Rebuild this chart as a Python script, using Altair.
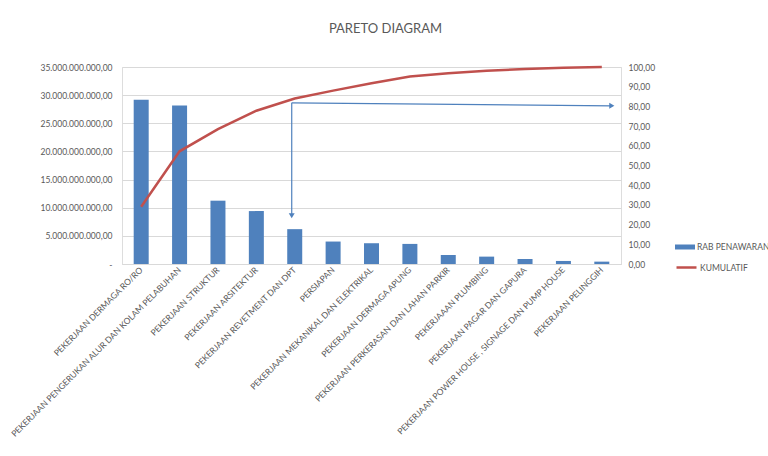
import altair as alt
import pandas as pd

categories = [
    "PEKERJAAN DERMAGA RO/RO",
    "PEKERJAAN  PENGERUKAN ALUR DAN KOLAM PELABUHAN",
    "PEKERJAAN STRUKTUR",
    "PEKERJAAN ARSITEKTUR",
    "PEKERJAAN REVETMENT DAN DPT",
    "PERSIAPAN",
    "PEKERJAAN MEKANIKAL DAN ELEKTRIKAL",
    "PEKERJAAN DERMAGA APUNG",
    "PEKERJAAN PERKERASAN DAN LAHAN PARKIR",
    "PEKERJAAAN PLUMBING",
    "PEKERJAAN PAGAR DAN GAPURA",
    "PEKERJAAN POWER HOUSE , SIGNAGE DAN PUMP HOUSE",
    "PEKERJAAN PELINGGIH",
]
rab_penawaran = [29.16e9, 28.16e9, 11.25e9, 9.40e9, 6.19e9, 3.99e9, 3.69e9,
                 3.57e9, 1.60e9, 1.31e9, 0.89e9, 0.54e9, 0.42e9]
kumulatif = [29.1, 57.2, 68.5, 77.8, 84.0, 88.0, 91.7, 95.2, 96.8, 98.1, 99.0, 99.6, 100.0]

# annotation arrows (values on the percentage axis)
arrow_category = "PEKERJAAN REVETMENT DAN DPT"
arrow_end_category = "PEKERJAAN PELINGGIH"
h_arrow_start, h_arrow_end = 81.8, 80.3
v_arrow_start, v_arrow_end = 81.8, 24.5

FONT = "Lato"
GREY = "#595959"
BLUE = "#4F81BD"
RED = "#C0504D"

df = pd.DataFrame({
    "kategori": categories,
    "rab": rab_penawaran,
    "kum": kumulatif,
    "s1": ["RAB PENAWARAN"] * len(categories),
    "s2": ["KUMULATIF"] * len(categories),
})

xscale = alt.Scale(domain=categories, paddingInner=0.6, paddingOuter=0.3)

xenc = alt.X("kategori:N", title=None, scale=xscale,
             axis=alt.Axis(labelAngle=-45, labelAlign="right", labelBaseline="middle",
                           labelFontSize=8.5, labelColor=GREY, labelFont=FONT,
                           labelLimit=400, labelPadding=4, ticks=False,
                           domainColor="#D9D9D9", labelOverlap=False))

left_expr = ("datum.value == 0 ? '-' : replace(format(datum.value, ',.0f'), "
             "regexp(',', 'g'), '.') + ',00'")
right_expr = "replace(format(datum.value, '.2f'), '.', ',')"

base = alt.Chart(df)

bars = base.mark_bar(size=15).encode(
    x=xenc,
    y=alt.Y("rab:Q", title=None,
            scale=alt.Scale(domain=[0, 35e9], nice=False),
            axis=alt.Axis(values=[i * 5e9 for i in range(8)], labelExpr=left_expr,
                          labelFontSize=8.5, labelColor=GREY, labelFont=FONT,
                          gridColor="#D9D9D9", domain=False, ticks=False, labelPadding=10)),
    fill=alt.Fill("s1:N", title=None,
                  scale=alt.Scale(domain=["RAB PENAWARAN"], range=[BLUE]),
                  legend=alt.Legend(orient="none", legendX=553, legendY=170,
                                    symbolType="M-1,-0.25L1,-0.25L1,0.25L-1,0.25Z",
                                    symbolSize=400, symbolStrokeWidth=0,
                                    labelFontSize=8.5, labelColor=GREY, labelFont=FONT,
                                    labelOffset=2)),
)

pct_scale = alt.Scale(domain=[0, 100], nice=False)

line = base.mark_line(strokeWidth=2.5).encode(
    x=alt.X("kategori:N", scale=xscale),
    y=alt.Y("kum:Q", title=None, scale=pct_scale,
            axis=alt.Axis(orient="right", values=list(range(0, 101, 10)),
                          labelExpr=right_expr, grid=False, domain=False, ticks=False,
                          labelFontSize=8.5, labelColor=GREY, labelFont=FONT,
                          labelPadding=7)),
    stroke=alt.Stroke("s2:N", title=None,
                      scale=alt.Scale(domain=["KUMULATIF"], range=[RED]),
                      legend=alt.Legend(orient="none", legendX=553, legendY=189,
                                        symbolType="stroke", symbolSize=400,
                                        symbolStrokeWidth=2.5,
                                        labelFontSize=8.5, labelColor=GREY, labelFont=FONT,
                                        labelOffset=2)),
)

arr = pd.DataFrame({
    "c1": [arrow_category], "c2": [arrow_end_category],
    "hy1": [h_arrow_start], "hy2": [h_arrow_end],
    "vy1": [v_arrow_start], "vy2": [v_arrow_end],
})
ac = alt.Chart(arr)

h_arrow = ac.mark_rule(color=BLUE, strokeWidth=1.2, x2Offset=10, xOffset=-3).encode(
    x=alt.X("c1:N", scale=xscale),
    x2="c2:N",
    y=alt.Y("hy1:Q", scale=pct_scale, axis=None),
    y2="hy2:Q",
)
h_head = ac.mark_point(shape="triangle-right", filled=True, color=BLUE, size=35,
                       opacity=1, xOffset=10).encode(
    x=alt.X("c2:N", scale=xscale),
    y=alt.Y("hy2:Q", scale=pct_scale, axis=None),
)
v_arrow = ac.mark_rule(color=BLUE, strokeWidth=1.2, xOffset=-3).encode(
    x=alt.X("c1:N", scale=xscale),
    y=alt.Y("vy1:Q", scale=pct_scale, axis=None),
    y2="vy2:Q",
)
v_head = ac.mark_point(shape="triangle-down", filled=True, color=BLUE, size=35,
                       opacity=1, xOffset=-3).encode(
    x=alt.X("c1:N", scale=xscale),
    y=alt.Y("vy2:Q", scale=pct_scale, axis=None),
)

chart = alt.layer(bars, line, h_arrow, h_head, v_arrow, v_head).resolve_scale(
    y="independent"
).properties(
    width=499, height=197,
    padding={"left": 122, "top": 67, "right": 147, "bottom": 192},
    autosize=alt.AutoSizeParams(type="none"),
    title=alt.TitleParams("PARETO DIAGRAM", fontSize=13, font=FONT, color=GREY,
                          fontWeight="normal", anchor="middle", dx=14, offset=26),
).configure_view(stroke=None).configure(background="white")

chart.save("out.html", embed_options={"renderer": "svg", "actions": False})
